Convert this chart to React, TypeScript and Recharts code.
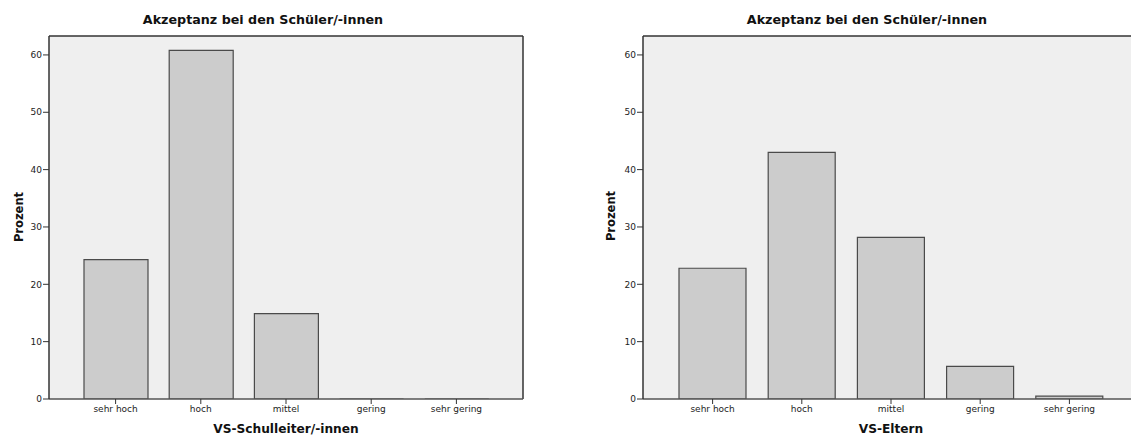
import React from 'react';
import { BarChart, Bar, XAxis, YAxis, CartesianGrid } from 'recharts';

const categories = ['sehr hoch', 'hoch', 'mittel', 'gering', 'sehr gering'];
const schulleiterValues = [24.3, 60.8, 14.9, 0, 0];
const elternValues = [22.8, 43.0, 28.2, 5.7, 0.5];
const yTicks = [0, 10, 20, 30, 40, 50, 60];
const chartTitle = 'Akzeptanz bei den Schüler/-innen';
const yTitle = 'Prozent';
const leftXTitle = 'VS-Schulleiter/-innen';
const rightXTitle = 'VS-Eltern';

const FONT = '"DejaVu Sans", Verdana, sans-serif';
const Y_MAX = 63.3;

const BarShape = (props: any) => {
  const { x, y, width, height } = props;
  const h = Math.max(height || 0, 0);
  const d = `M${x},${y} h${width} v${h} h${-width} Z`;
  return <path d={d} fill="#cccccc" stroke="#4a4a4a" strokeWidth={1.2} />;
};

type PanelProps = {
  values: number[];
  left: number;
  width: number;
  yAxisWidth: number;
  marginRight: number;
  padLeft: number;
  padRight: number;
  barSize: number;
  rightFrame: boolean;
};

const topBorder = (p: any) => [p.offset.top];
const rightBorder = (p: any) => [p.offset.left + p.offset.width];
const noBorder = () => [];

const Panel = ({ values, left, width, yAxisWidth, marginRight, padLeft, padRight, barSize, rightFrame }: PanelProps) => {
  const data = categories.map((c, i) => ({ cat: c, value: values[i] }));
  return (
    <div style={{ position: 'absolute', left, top: 0 }}>
      <BarChart
        width={width}
        height={440}
        data={data}
        margin={{ top: 36, right: marginRight, bottom: 0, left: 0 }}
        barSize={barSize}
      >
        <CartesianGrid
          fill="#efefef"
          stroke="#333"
          strokeWidth={1.5}
          strokeDasharray=""
          vertical={rightFrame}
          horizontalCoordinatesGenerator={topBorder}
          verticalCoordinatesGenerator={rightFrame ? rightBorder : noBorder}
        />
        <XAxis
          dataKey="cat"
          height={41}
          padding={{ left: padLeft, right: padRight }}
          tickSize={5}
          tickMargin={2}
          axisLine={{ stroke: '#555', strokeWidth: 1.5 }}
          tickLine={{ stroke: '#333' }}
          tick={{ fontSize: 9, fill: '#222', fontFamily: FONT }}
          interval={0}
        />
        <YAxis
          width={yAxisWidth}
          domain={[0, Y_MAX]}
          ticks={yTicks}
          allowDataOverflow
          tickSize={6}
          tickMargin={1}
          axisLine={{ stroke: '#333', strokeWidth: 1.5 }}
          tickLine={{ stroke: '#333' }}
          tick={{ fontSize: 9, fill: '#222', fontFamily: FONT }}
        />
        <Bar dataKey="value" shape={BarShape} isAnimationActive={false} />
      </BarChart>
    </div>
  );
};

export default function App() {
  return (
    <div
      style={{
        position: 'absolute',
        left: 0,
        top: 0,
        width: 1131,
        height: 440,
        overflow: 'hidden',
        background: '#ffffff',
      }}
    >
      <Panel
        values={schulleiterValues}
        left={0}
        width={560}
        yAxisWidth={49}
        marginRight={37}
        padLeft={24}
        padRight={24}
        barSize={64}
        rightFrame={true}
      />
      <Panel
        values={elternValues}
        left={570}
        width={620}
        yAxisWidth={73}
        marginRight={51}
        padLeft={25}
        padRight={25}
        barSize={67}
        rightFrame={false}
      />
      <svg
        width={1131}
        height={440}
        style={{ position: 'absolute', left: 0, top: 0, pointerEvents: 'none' }}
      >
        <g fontFamily={FONT} fontWeight="bold" fill="#111">
          <text x={263} y={24} textAnchor="middle" fontSize={12.7}>{chartTitle}</text>
          <text x={867} y={24} textAnchor="middle" fontSize={12.7}>{chartTitle}</text>
          <text x={286} y={433} textAnchor="middle" fontSize={12.2}>{leftXTitle}</text>
          <text x={891} y={433} textAnchor="middle" fontSize={12.2}>{rightXTitle}</text>
          <text x={23} y={217} textAnchor="middle" fontSize={11.5} transform="rotate(-90 23 217)">{yTitle}</text>
          <text x={615} y={216} textAnchor="middle" fontSize={11.5} transform="rotate(-90 615 216)">{yTitle}</text>
        </g>
      </svg>
    </div>
  );
}
